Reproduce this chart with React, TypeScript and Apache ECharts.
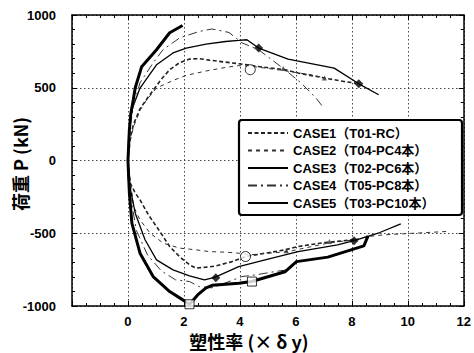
import React, { useEffect, useRef } from "react";
import * as echarts from "echarts";

const legendNames = [
  "CASE1（T01-RC）",
  "CASE2（T04-PC4本）",
  "CASE3（T02-PC6本）",
  "CASE4（T05-PC8本）",
  "CASE5（T03-PC10本）",
];

const yTickLabels = ["-1000", "-500", "0", "500", "1000"];

// CASE1 (T01-RC)
const case1PosX = [0, 0.05, 0.2, 0.43, 0.7, 0.95, 1.2, 1.49, 1.84, 2.2, 2.55, 2.9, 3.4, 3.96, 4.67, 5.61, 6.08, 7.02, 7.72, 8.13];
const case1PosP = [0, 130, 250, 355, 430, 495, 560, 624, 672, 697, 700, 690, 678, 665, 646, 624, 601, 567, 543, 532];
const case1NegX = [0, 0.02, 0.26, 0.43, 0.73, 1.14, 1.49, 1.84, 2.2, 2.43, 2.79, 3.14, 3.72, 4.2, 4.9, 5.61, 6.08, 7.02, 8.08];
const case1NegP = [0, -133, -224, -270, -373, -488, -591, -660, -717, -740, -733, -725, -695, -660, -637, -614, -591, -564, -545];

// CASE2 (T04-PC4)
const case2PosX = [0, 0.1, 0.2, 0.45, 0.67, 1.02, 1.61, 2.08, 2.79, 3.49, 3.96, 4.5, 5.5, 6.5, 7.0];
const case2PosP = [0, 150, 234, 350, 417, 498, 550, 585, 615, 640, 652, 645, 620, 590, 570];
const case2NegX = [0, 0.2, 0.43, 0.79, 1.26, 1.84, 2.43, 2.9, 3.49, 3.96, 4.31, 5.72, 7.14, 8.08, 8.55, 9.14, 10.2, 11.37];
const case2NegP = [0, -316, -408, -499, -568, -602, -614, -626, -630, -637, -649, -626, -568, -545, -523, -511, -500, -488];

// CASE3 (T02-PC6)
const case3PosX = [0, 0.02, 0.08, 0.14, 0.43, 1.02, 1.61, 2.08, 2.79, 3.49, 3.96, 4.25, 4.67, 5.72, 7.37, 8.25, 8.96];
const case3PosP = [0, 142, 280, 349, 498, 658, 739, 773, 800, 818, 825, 830, 773, 697, 635, 527, 452];
const case3NegX = [0, 0.02, 0.26, 0.61, 1.02, 1.61, 2.2, 2.73, 3.1, 3.96, 4.9, 6.08, 7.49, 8.08, 9.0, 9.75];
const case3NegP = [0, -133, -362, -545, -683, -752, -793, -820, -803, -729, -683, -626, -580, -550, -495, -435];

// CASE4 (T05-PC8)
const case4PosX = [0, 0.05, 0.2, 0.43, 0.9, 1.25, 1.85, 2.55, 3.0, 3.61, 4.07, 4.67, 5.61, 6.19, 6.72, 7.0];
const case4PosP = [0, 200, 380, 534, 671, 761, 843, 887, 904, 880, 809, 761, 624, 532, 429, 360];
const case4NegX = [0, 0.05, 0.3, 0.7, 1.2, 1.7, 2.2, 2.55, 3.0, 3.5, 4.07, 4.6, 5.26, 5.66];
const case4NegP = [0, -200, -480, -650, -760, -820, -832, -867, -875, -840, -798, -785, -763, -752];

// CASE5 (T03-PC10)
const case5PosX = [0, 0.05, 0.1, 0.19, 0.26, 0.49, 1.02, 1.49, 1.95];
const case5PosP = [0, 211, 320, 417, 500, 645, 761, 878, 928];
const case5NegX = [0, 0.05, 0.14, 0.43, 0.9, 1.49, 1.96, 2.2, 2.49, 2.79, 3.01, 3.96, 4.42, 5.61, 6.02, 7.14, 8.43, 8.58];
const case5NegP = [0, -222, -430, -637, -798, -901, -958, -988, -924, -876, -858, -843, -832, -765, -695, -664, -587, -518];

// markers
const case3Diamonds = [[4.67, 773], [8.25, 527], [3.14, -805], [8.08, -552]];
const case1Circles = [[4.37, 624], [4.2, -660]];
const case5Squares = [[2.2, -988], [4.43, -832]];
const case1Triangles = [[5.55, 632], [7.02, 567], [5.66, -620], [7.2, -557]];

const FONT = "'Liberation Sans', 'Noto Sans CJK JP', sans-serif";
const CJK = "'Noto Sans CJK JP', 'Liberation Sans', sans-serif";

function joinBranches(negX: number[], negP: number[], posX: number[], posP: number[]) {
  const pts: number[][] = [];
  for (let i = negX.length - 1; i >= 1; i--) pts.push([negX[i], negP[i]]);
  for (let i = 0; i < posX.length; i++) pts.push([posX[i], posP[i]]);
  return pts;
}

export default function App() {
  const ref = useRef<HTMLDivElement>(null);
  useEffect(() => {
    if (!ref.current) return;
    const chart = echarts.init(ref.current, null, { renderer: "svg" });
    const gridColor = "#444";
    const xBase = {
      type: "value",
      min: -2,
      max: 12,
      interval: 2,
      axisLine: { show: true, onZero: false, lineStyle: { color: "#000", width: 1.5 } },
      axisTick: { show: true, inside: true, length: 5, lineStyle: { color: "#000", width: 1 } },
      minorTick: { show: true, splitNumber: 4, length: 3, lineStyle: { color: "#000", width: 1 } },
    };
    const yBase = {
      type: "value",
      min: -1000,
      max: 1000,
      interval: 500,
      axisLine: { show: true, onZero: false, lineStyle: { color: "#000", width: 1.5 } },
      axisTick: { show: true, inside: true, length: 5, lineStyle: { color: "#000", width: 1 } },
      minorTick: { show: true, splitNumber: 5, length: 3, lineStyle: { color: "#000", width: 1 } },
    };
    const lineCommon = {
      type: "line",
      symbol: "none",
      xAxisIndex: 0,
      yAxisIndex: 0,
      z: 2,
    };
    chart.setOption({
      animation: false,
      backgroundColor: "#fff",
      grid: { left: 72, top: 15, right: 7, bottom: 47 },
      xAxis: [
        {
          ...xBase,
          position: "bottom",
          axisLabel: {
            show: true,
            margin: 9,
            color: "#000",
            fontFamily: FONT,
            fontWeight: "bold",
            fontSize: 13,
            formatter: (v: number) => (v === -2 ? "" : String(v)),
          },
          splitLine: { show: true, lineStyle: { color: gridColor, type: [1.5, 2.5], width: 1 } },
        },
        {
          ...xBase,
          position: "top",
          axisLabel: { show: false },
          splitLine: { show: false },
        },
      ],
      yAxis: [
        {
          ...yBase,
          position: "left",
          axisLabel: {
            show: true,
            margin: 16,
            color: "#000",
            fontFamily: FONT,
            fontWeight: "bold",
            fontSize: 13,
            formatter: (v: number) => yTickLabels[Math.round((v + 1000) / 500)] ?? String(v),
          },
          splitLine: { show: true, lineStyle: { color: gridColor, type: [1.5, 2.5], width: 1 } },
        },
        {
          ...yBase,
          position: "right",
          axisLabel: { show: false },
          splitLine: { show: false },
        },
      ],
      legend: {
        data: legendNames,
        orient: "vertical",
        left: 247,
        top: 126,
        padding: 0,
        itemWidth: 40,
        itemHeight: 14,
        itemGap: 3.5,
        z: 5,
        itemStyle: { color: "rgba(0,0,0,0)", borderColor: "rgba(0,0,0,0)", borderWidth: 0 },
        textStyle: {
          color: "#000",
          fontFamily: FONT,
          fontWeight: "bold",
          fontSize: 13,
          lineHeight: 14,
        },
      },
      graphic: [
        {
          type: "rect",
          z: 3,
          shape: { x: 239, y: 120, width: 223, height: 95, r: 3 },
          style: { fill: "#fff", stroke: "#000", lineWidth: 2.2 },
        },
        {
          type: "text",
          x: 249,
          y: 341,
          style: {
            text: "塑性率 (× δ y)",
            fontFamily: CJK,
            fontWeight: "bold",
            fontSize: 18,
            fill: "#000",
            textAlign: "center",
            textVerticalAlign: "middle",
          },
        },
        {
          type: "text",
          x: 20,
          y: 164,
          rotation: Math.PI / 2,
          style: {
            text: "荷重 P (kN)",
            fontFamily: CJK,
            fontWeight: "bold",
            fontSize: 18,
            fill: "#000",
            textAlign: "center",
            textVerticalAlign: "middle",
          },
        },
      ],
      series: [
        {
          ...lineCommon,
          name: legendNames[0],
          data: joinBranches(case1NegX, case1NegP, case1PosX, case1PosP),
          lineStyle: { color: "#222", width: 1.6, type: [4, 2.5] },
          itemStyle: { color: "#222" },
        },
        {
          ...lineCommon,
          name: legendNames[1],
          data: joinBranches(case2NegX, case2NegP, case2PosX, case2PosP),
          lineStyle: { color: "#333", width: 1, type: [4, 4] },
          itemStyle: { color: "#333" },
        },
        {
          ...lineCommon,
          name: legendNames[2],
          data: joinBranches(case3NegX, case3NegP, case3PosX, case3PosP),
          lineStyle: { color: "#000", width: 1.3, type: "solid" },
          itemStyle: { color: "#000" },
        },
        {
          ...lineCommon,
          name: legendNames[3],
          data: joinBranches(case4NegX, case4NegP, case4PosX, case4PosP),
          lineStyle: { color: "#333", width: 1, type: [9, 4, 2, 4] },
          itemStyle: { color: "#333" },
        },
        {
          ...lineCommon,
          name: legendNames[4],
          data: joinBranches(case5NegX, case5NegP, case5PosX, case5PosP),
          lineStyle: { color: "#000", width: 3, type: "solid" },
          itemStyle: { color: "#000" },
        },
        {
          type: "scatter",
          name: "case3-marks",
          data: case3Diamonds,
          symbol: "diamond",
          symbolSize: 9,
          itemStyle: { color: "#000" },
          z: 3,
        },
        {
          type: "scatter",
          name: "case1-marks",
          data: case1Circles,
          symbol: "circle",
          symbolSize: 10,
          itemStyle: { color: "#fff", borderColor: "#000", borderWidth: 1 },
          z: 3,
        },
        {
          type: "scatter",
          name: "case5-marks",
          data: case5Squares,
          symbol: "rect",
          symbolSize: 9,
          itemStyle: { color: "#fff", borderColor: "#000", borderWidth: 1 },
          z: 3,
        },
        {
          type: "scatter",
          name: "case1-tri",
          data: case1Triangles,
          symbol: "triangle",
          symbolSize: 5,
          itemStyle: { color: "#333" },
          z: 3,
        },
      ],
    });
    return () => chart.dispose();
  }, []);
  return (
    <div
      ref={ref}
      style={{ position: "fixed", left: 0, top: 0, width: 474, height: 353 }}
    />
  );
}
